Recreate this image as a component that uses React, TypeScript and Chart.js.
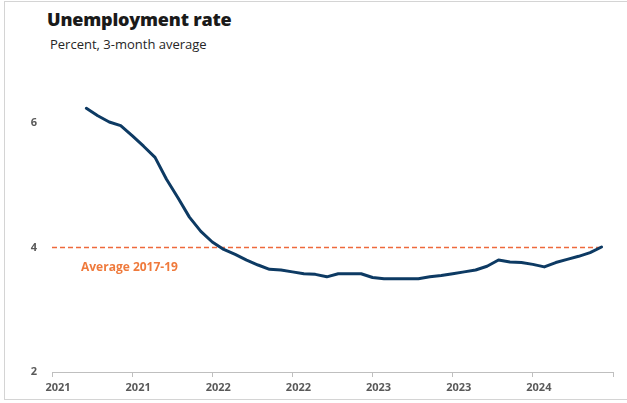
import React, { useEffect, useRef } from "react";
import { Chart, registerables } from "chart.js";

Chart.register(...registerables);

// ---- data ----
const titleText = "Unemployment rate";
const subtitleText = "Percent, 3-month average";
const averageLabel = "Average 2017-19";

// months counted from Jan 2021 (axis origin); first observation Apr 2021
const firstMonthIndex = 3;
const rate = [
  6.24, 6.12, 6.02, 5.96, 5.8, 5.63, 5.45, 5.1, 4.8, 4.49,
  4.26, 4.09, 3.97, 3.89, 3.8, 3.72, 3.65, 3.64, 3.61, 3.58,
  3.57, 3.53, 3.58, 3.58, 3.58, 3.52, 3.5, 3.5, 3.5, 3.5,
  3.53, 3.55, 3.58, 3.61, 3.64, 3.7, 3.8, 3.77, 3.76, 3.73,
  3.69, 3.76, 3.81, 3.86, 3.92, 4.01,
];
const average2017to19 = 4.0;

const tickLabels = ["2021", "2021", "2022", "2022", "2023", "2023", "2024"];
const monthsPerTick = 7;
const axisMonths = 49;
const yTicks = [2, 4, 6];
const yMin = 2;
const yMax = 7;

const NAVY = "#0d3a63";
const ORANGE = "#EF7A3C";
const DASH = "#EE6A3C";
const GRAY = "#595959";

export default function App() {
  const canvasRef = useRef<HTMLCanvasElement | null>(null);

  useEffect(() => {
    if (!canvasRef.current) return;
    const lineData = rate.map((v, i) => ({ x: firstMonthIndex + i, y: v }));
    const lastX = firstMonthIndex + rate.length - 1;
    const avgData = [
      { x: 0, y: average2017to19 },
      { x: lastX, y: average2017to19 },
    ];

    const avgLabelPlugin = {
      id: "avgLabel",
      afterDatasetsDraw(chart: any) {
        const { ctx, chartArea, scales } = chart;
        const y = scales.y.getPixelForValue(average2017to19);
        ctx.save();
        ctx.font = 'bold 12px "Open Sans"';
        ctx.fillStyle = ORANGE;
        ctx.textBaseline = "middle";
        ctx.textAlign = "left";
        ctx.fillText(averageLabel, chartArea.left + 29, y + 20);
        ctx.restore();
      },
    };

    const chart = new Chart(canvasRef.current, {
      type: "line",
      data: {
        datasets: [
          {
            data: lineData,
            borderColor: NAVY,
            borderWidth: 3,
            pointRadius: 0,
            tension: 0,
            borderCapStyle: "round",
            borderJoinStyle: "round",
          },
          {
            data: avgData,
            borderColor: DASH,
            borderWidth: 1.5,
            borderDash: [5, 3],
            pointRadius: 0,
          },
        ],
      },
      options: {
        animation: false,
        responsive: false,
        maintainAspectRatio: false,
        layout: { padding: { left: 0, right: 14, top: 61, bottom: 0 } },
        plugins: {
          legend: { display: false },
          tooltip: { enabled: false },
          title: { display: false },
        },
        scales: {
          x: {
            type: "linear",
            min: 0,
            max: axisMonths,
            afterFit(scale: any) {
              scale.height = 31;
            },
            afterBuildTicks(scale: any) {
              const t = [];
              for (let v = 0; v <= axisMonths; v += monthsPerTick) t.push({ value: v });
              scale.ticks = t;
            },
            ticks: {
              callback: (_v: any, i: number) => tickLabels[i] ?? "",
              color: GRAY,
              font: { family: '"Open Sans"', size: 11, weight: "bold" },
              padding: 4,
              labelOffset: 6,
              maxRotation: 0,
              autoSkip: false,
            },
            grid: {
              drawOnChartArea: false,
              drawTicks: true,
              tickLength: 5,
              color: "#bfbfbf",
            },
            border: { display: true, color: "#bfbfbf", width: 1 },
          },
          y: {
            min: yMin,
            max: yMax,
            afterFit(scale: any) {
              scale.width = 52;
            },
            afterBuildTicks(scale: any) {
              scale.ticks = yTicks.map((v) => ({ value: v }));
            },
            ticks: {
              color: GRAY,
              font: { family: '"Open Sans"', size: 11, weight: "bold" },
              padding: 15,
            },
            grid: { display: false, drawTicks: false },
            border: { display: false },
          },
        },
      },
      plugins: [avgLabelPlugin],
    } as any);
    return () => chart.destroy();
  }, []);

  return (
    <div
      style={{
        position: "absolute",
        left: 0,
        top: 0,
        width: 627,
        height: 403,
        background: "#fff",
        overflow: "hidden",
      }}
    >
      <div
        style={{
          position: "absolute",
          left: 4,
          top: 1,
          width: 640,
          height: 397,
          borderLeft: "1px solid #d4d4d4",
          borderTop: "1px solid #d4d4d4",
          borderBottom: "1px solid #d4d4d4",
        }}
      />
      <div
        style={{
          position: "absolute",
          left: 47,
          top: 7,
          font: '800 18px "Open Sans"',
          color: "#1a1a1a",
          whiteSpace: "nowrap",
          letterSpacing: "-0.2px",
        }}
      >
        {titleText}
      </div>
      <div
        style={{
          position: "absolute",
          left: 50,
          top: 35,
          font: '500 13px "Open Sans"',
          color: "#262626",
          whiteSpace: "nowrap",
        }}
      >
        {subtitleText}
      </div>
      <canvas
        ref={canvasRef}
        width={627}
        height={403}
        style={{ position: "absolute", left: 0, top: 0, width: 627, height: 403 }}
      />
    </div>
  );
}
